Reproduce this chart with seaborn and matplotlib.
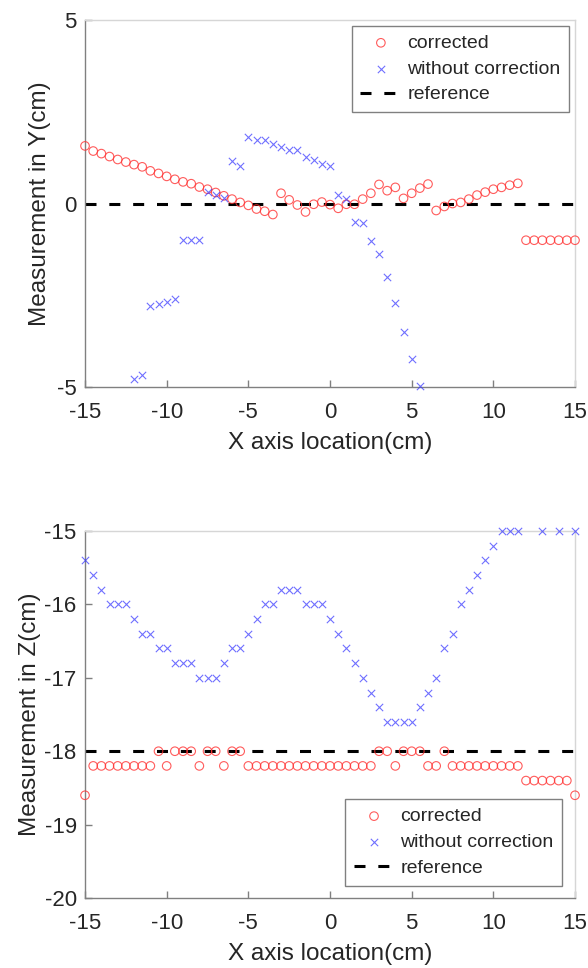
import numpy as np
import pandas as pd
import matplotlib
matplotlib.use("Agg")
import matplotlib.pyplot as plt
import seaborn as sns

# ---- data ----
x_corr = np.arange(-15, 15.01, 0.5)

y_corrected = [1.57, 1.43, 1.36, 1.28, 1.20, 1.13, 1.06, 1.00, 0.89, 0.82,
               0.74, 0.66, 0.59, 0.54, 0.45, 0.39, 0.30, 0.21, 0.12, 0.03,
               -0.05, -0.15, -0.21, -0.30, 0.28, 0.10, -0.04, -0.23, -0.02, 0.04,
               -0.03, -0.13, -0.02, -0.02, 0.12, 0.28, 0.52, 0.35, 0.44, 0.14,
               0.28, 0.42, 0.53, -0.19, -0.08, 0.00, 0.03, 0.12, 0.23, 0.31,
               0.39, 0.44, 0.50, 0.55, -1.0, -1.0, -1.0, -1.0, -1.0, -1.0, -1.0]

x_y_raw = np.arange(-12, 5.51, 0.5)
y_raw = [-4.78, -4.66, -2.79, -2.73, -2.68, -2.60, -1.0, -1.0, -1.0, 0.31,
         0.24, 0.15, 1.16, 1.03, 1.82, 1.73, 1.74, 1.63, 1.54, 1.45,
         1.45, 1.27, 1.18, 1.09, 1.02, 0.24, 0.11, -0.51, -0.53, -1.01,
         -1.38, -2.0, -2.70, -3.50, -4.25, -4.96]

z_corrected = [-18.6, -18.2, -18.2, -18.2, -18.2, -18.2, -18.2, -18.2, -18.2, -18.0,
               -18.2, -18.0, -18.0, -18.0, -18.2, -18.0, -18.0, -18.2, -18.0, -18.0,
               -18.2, -18.2, -18.2, -18.2, -18.2, -18.2, -18.2, -18.2, -18.2, -18.2,
               -18.2, -18.2, -18.2, -18.2, -18.2, -18.2, -18.0, -18.0, -18.2, -18.0,
               -18.0, -18.0, -18.2, -18.2, -18.0, -18.2, -18.2, -18.2, -18.2, -18.2,
               -18.2, -18.2, -18.2, -18.2, -18.4, -18.4, -18.4, -18.4, -18.4, -18.4,
               -18.6]

x_z_raw = list(np.arange(-15, 11.51, 0.5)) + [13, 14, 15]
z_raw = [-15.4, -15.6, -15.8, -16.0, -16.0, -16.0, -16.2, -16.4, -16.4, -16.6,
         -16.6, -16.8, -16.8, -16.8, -17.0, -17.0, -17.0, -16.8, -16.6, -16.6,
         -16.4, -16.2, -16.0, -16.0, -15.8, -15.8, -15.8, -16.0, -16.0, -16.0,
         -16.2, -16.4, -16.6, -16.8, -17.0, -17.2, -17.4, -17.6, -17.6, -17.6,
         -17.6, -17.4, -17.2, -17.0, -16.6, -16.4, -16.0, -15.8, -15.6, -15.4,
         -15.2, -15.0, -15.0, -15.0, -15.0, -15.0, -15.0]

ref_x = [-15, 15]
ref_y = [0, 0]
ref_z = [-18, -18]

sns.set_style("white")
plt.rcParams['font.family'] = ['Liberation Sans', 'DejaVu Sans']
plt.rcParams['axes.unicode_minus'] = False

fig = plt.figure(figsize=(5.88, 9.68), dpi=100)
ax1 = fig.add_axes([0.1446, 0.6002, 0.8333, 0.3791])
ax2 = fig.add_axes([0.1446, 0.0723, 0.8333, 0.3791])


def draw(ax, yc, xr, yr, yref):
    sns.scatterplot(x=x_corr, y=yc, marker='o', s=38, facecolor='none',
                    edgecolor=(1, 0.2, 0.2, 0.8), linewidth=0.8, clip_on=False,
                    label='corrected', ax=ax, zorder=3)
    sns.scatterplot(x=xr, y=yr, marker='x', s=28, color=(0.2, 0.2, 1, 0.7),
                    linewidth=0.8, clip_on=False, label='without correction',
                    ax=ax, zorder=3)
    sns.lineplot(x=ref_x, y=yref, color='black', linewidth=2.2,
                 dashes=(3.6, 4.2), label='reference', ax=ax, zorder=2)


draw(ax1, y_corrected, x_y_raw, y_raw, ref_y)
draw(ax2, z_corrected, x_z_raw, z_raw, ref_z)

ax1.set_ylim(-5, 5)
ax1.set_yticks([-5, 0, 5])
ax1.set_ylabel("Measurement in Y(cm)", fontsize=17.5)
ax1.yaxis.set_label_coords(-0.0694, 0.5)
ax2.set_ylim(-20, -15)
ax2.set_yticks(range(-20, -14))
ax2.set_ylabel("Measurement in Z(cm)", fontsize=17.5)
ax2.yaxis.set_label_coords(-0.0898, 0.5)

for ax in (ax1, ax2):
    ax.set_xlim(-15, 15)
    ax.set_xticks(range(-15, 16, 5))
    ax.set_xlabel("X axis location(cm)", fontsize=17.5, labelpad=6)
    ax.tick_params(direction='in', length=5, width=1, colors='#808080',
                   labelcolor='#262626', labelsize=16, pad=6,
                   bottom=True, left=True, top=False, right=False)
    ax.tick_params(axis='x', pad=11)
    for s in ('left', 'bottom'):
        ax.spines[s].set_color('#808080')
        ax.spines[s].set_linewidth(1.0)
    for s in ('top', 'right'):
        ax.spines[s].set_color('#d6d6d6')
        ax.spines[s].set_linewidth(1.0)

leg_kw = dict(fontsize=14, frameon=True, fancybox=False, framealpha=1,
              edgecolor='#808080', borderaxespad=0, handlelength=2.1,
              handletextpad=0.3, labelspacing=0.42, borderpad=0.45)
l1 = ax1.legend(loc='upper right', bbox_to_anchor=(0.988, 0.985), **leg_kw)
l2 = ax2.legend(loc='lower right', bbox_to_anchor=(0.974, 0.034), **leg_kw)
for leg in (l1, l2):
    leg.get_frame().set_linewidth(1.0)

fig.savefig("out.png", dpi=100)
